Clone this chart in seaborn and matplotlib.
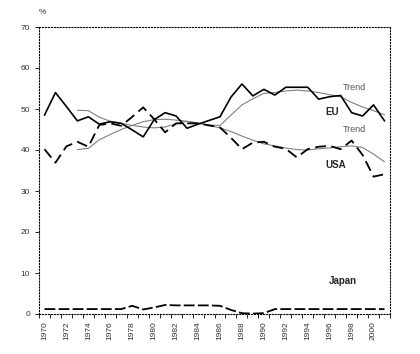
import matplotlib
matplotlib.use('Agg')
import matplotlib.pyplot as plt
import seaborn as sns
import numpy as np

years = list(range(1970, 2002))
eu = [48.5, 54.0, 50.6, 47.1, 48.1, 46.3, 46.9, 46.5, 44.9, 43.2, 47.4, 49.1,
      48.3, 45.3, 46.3, 47.2, 48.1, 52.9, 56.1, 53.2, 54.8, 53.4, 55.3, 55.3,
      55.3, 52.4, 53.0, 53.3, 49.1, 48.3, 51.0, 47.1]
usa = [40.2, 36.9, 40.9, 42.0, 40.8, 46.1, 46.5, 45.9, 48.1, 50.4, 47.5, 44.3,
       46.5, 46.5, 46.5, 46.0, 45.5, 43.0, 40.2, 41.8, 42.0, 40.8, 40.3, 38.2,
       40.2, 40.8, 41.0, 40.2, 42.3, 38.8, 33.5, 34.1]
japan = [1.2, 1.2, 1.2, 1.2, 1.2, 1.2, 1.2, 1.2, 2.0, 1.1, 1.6, 2.2,
         2.1, 2.1, 2.1, 2.1, 2.0, 1.0, 0.2, 0.1, 0.2, 1.2, 1.2, 1.2,
         1.2, 1.2, 1.2, 1.2, 1.2, 1.2, 1.2, 1.2]

trend_years = list(range(1973, 2002))
eu_trend = [49.7, 49.6, 48.0, 47.0, 46.5, 46.0, 45.6, 45.4, 45.6, 46.4, 47.0,
            46.6, 46.1, 46.0, 48.5, 51.0, 52.5, 53.8, 54.0, 54.4, 54.6, 54.4,
            54.0, 53.5, 53.0, 51.6, 50.5, 49.6, 48.6]
usa_trend = [40.1, 40.4, 42.5, 43.8, 45.0, 46.0, 46.9, 47.4, 47.5, 47.3, 47.0,
             46.5, 46.0, 45.4, 44.5, 43.4, 42.4, 41.5, 41.0, 40.5, 40.1, 40.0,
             40.3, 40.5, 40.8, 41.0, 40.6, 39.0, 37.1]

sns.set_style("white")
plt.rcParams['font.family'] = ['Liberation Sans', 'DejaVu Sans']

fig = plt.figure(figsize=(4.2, 3.54), dpi=100)
ax = fig.add_axes([39 / 420, 40 / 354, 351 / 420, 287 / 354])

# trend lines first, thin gray
sns.lineplot(x=trend_years, y=eu_trend, color='#808080', lw=0.8, ax=ax)
sns.lineplot(x=trend_years, y=usa_trend, color='#808080', lw=0.8, ax=ax)
sns.lineplot(x=years, y=eu, color='black', lw=1.2, ax=ax)
sns.lineplot(x=years, y=usa, color='black', lw=1.3, ax=ax)
ax.lines[-1].set_dashes((6, 3))
sns.lineplot(x=years, y=japan, color='black', lw=1.3, ax=ax)
ax.lines[-1].set_dashes((6, 1.8))

ax.set_xlim(1969.5, 2001.5)
ax.set_ylim(0, 70)
ax.set_yticks(range(0, 71, 10))
ax.set_xticks(range(1970, 2001, 2))
ax.set_xticklabels([str(y) for y in range(1970, 2001, 2)], rotation=90)
ax.set_xticks(np.arange(1969.5, 2002, 1), minor=True)
ax.tick_params(axis='x', which='major', length=0, pad=5, labelsize=6, colors='#333333')
ax.tick_params(axis='x', which='minor', length=3, width=0.6, direction='out', color='black', bottom=True)
ax.tick_params(axis='y', length=3, width=0.6, direction='out', left=True, labelsize=6, colors='#333333')
ax.tick_params(axis='y', color='black')
ax.set_xlabel('')
ax.set_ylabel('')

for s in ax.spines.values():
    s.set_visible(True)
    s.set_linestyle(':')
    s.set_linewidth(0.8)
    s.set_color('black')

ax.text(0.0, 1.045, '%', transform=ax.transAxes, fontsize=6, color='#333333')
ax.text(1997.2, 54.6, 'Trend', fontsize=6.5, color='#555555')
ax.text(1997.2, 44.3, 'Trend', fontsize=6.5, color='#555555')
ax.text(1995.6, 48.6, 'EU', fontsize=7, fontweight='bold')
ax.text(1995.6, 35.6, 'USA', fontsize=7, fontweight='bold')
ax.text(1995.9, 7.2, 'Japan', fontsize=7, fontweight='bold')

fig.savefig('out.png', dpi=100)
